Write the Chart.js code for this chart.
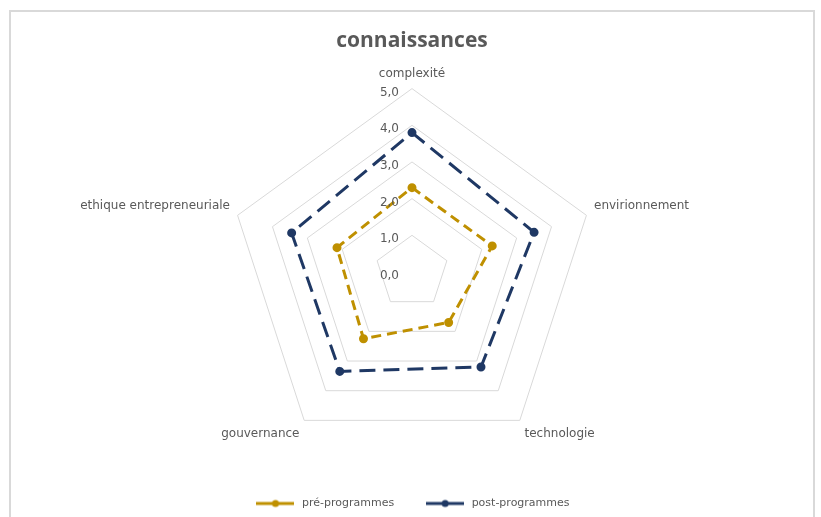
<!DOCTYPE html>
<html>
<head>
<meta charset="utf-8">
<script src="https://cdn.jsdelivr.net/npm/chart.js@4.4.1/dist/chart.umd.min.js"></script>
<style>
    body { margin: 0; background: #fff; }
    #wrap {
        position: absolute; left: 9px; top: 10px; width: 802px; height: 507px;
        border: 2px solid #d9d9d9; border-bottom: none; background: #fff;
    }
</style>
</head>
<body>
<div id="wrap"><canvas id="radar-chart" width="802" height="507"></canvas></div>
<script>
var categories = ['complexité', 'envirionnement', 'technologie', 'gouvernance', 'ethique entrepreneuriale'];
var preValues = [2.3, 2.3, 1.7, 2.25, 2.15];
var postValues = [3.8, 3.5, 3.2, 3.35, 3.45];
var tickValues = [0, 1, 2, 3, 4, 5];

var textcolor = '#595959';
var gold = '#bf9000';
var navy = '#1f3864';
var labelFont = '"DejaVu Sans"';

function legendIcon(color) {
    var c = document.createElement('canvas');
    c.width = 38;
    c.height = 10;
    var g = c.getContext('2d');
    g.strokeStyle = color;
    g.lineWidth = 3;
    g.beginPath();
    g.moveTo(0, 5); g.lineTo(12, 5);
    g.moveTo(26, 5); g.lineTo(38, 5);
    g.stroke();
    g.fillStyle = color;
    g.beginPath();
    g.arc(19, 5, 3.5, 0, Math.PI * 2);
    g.fill();
    g.fillRect(12, 3.5, 14, 3);
    return c;
}

function fmt(v) {
    return v.toFixed(1).replace('.', ',');
}

// tick labels sit left of the vertical axis, like Excel does
var tickLabelPlugin = {
    id: 'tickLabels',
    afterDraw: function (chart) {
        var scale = chart.scales.r;
        var ctx = chart.ctx;
        ctx.save();
        ctx.font = '12px ' + labelFont;
        ctx.fillStyle = textcolor;
        ctx.textAlign = 'right';
        ctx.textBaseline = 'middle';
        tickValues.forEach(function (v) {
            var d = scale.getDistanceFromCenterForValue(v);
            ctx.fillText(fmt(v), scale.xCenter - 13, scale.yCenter - d + 4);
        });
        ctx.restore();
    }
};

var ctx = document.getElementById('radar-chart').getContext('2d');
var myRadarChart = new Chart(ctx, {
    type: 'radar',
    data: {
        labels: categories,
        datasets: [{
            label: 'pré-programmes',
            data: preValues,
            borderColor: gold,
            backgroundColor: gold,
            pointBackgroundColor: gold,
            pointBorderColor: gold,
            borderWidth: 3,
            borderDash: [10, 6],
            pointRadius: 3,
            fill: false
        },
        {
            label: 'post-programmes',
            data: postValues,
            borderColor: navy,
            backgroundColor: navy,
            pointBackgroundColor: navy,
            pointBorderColor: navy,
            borderWidth: 3,
            borderDash: [16, 8],
            pointRadius: 3,
            fill: false
        }]
    },
    options: {
        responsive: false,
        animation: false,
        scales: {
            r: {
                min: 0,
                max: 5,
                ticks: { stepSize: 1, display: false },
                angleLines: { display: false },
                grid: { color: '#d9d9d9', lineWidth: 1 },
                pointLabels: {
                    color: textcolor,
                    padding: 8,
                    font: { family: labelFont, size: 12 }
                }
            }
        },
        plugins: {
            title: {
                display: true,
                text: 'connaissances',
                color: textcolor,
                font: { family: '"Open Sans"', size: 21, weight: 'bold' },
                padding: { top: 16, bottom: 3 }
            },
            legend: {
                position: 'bottom',
                labels: {
                    color: textcolor,
                    font: { family: labelFont, size: 11 },
                    usePointStyle: true,
                    pointStyleWidth: 42,
                    padding: 30,
                    generateLabels: function (chart) {
                        var items = Chart.defaults.plugins.legend.labels.generateLabels(chart);
                        items.forEach(function (it, i) {
                            it.pointStyle = legendIcon(i === 0 ? gold : navy);
                        });
                        return items;
                    }
                }
            },
            tooltip: { enabled: false }
        }
    },
    plugins: [tickLabelPlugin]
});
</script>
</body>
</html>
